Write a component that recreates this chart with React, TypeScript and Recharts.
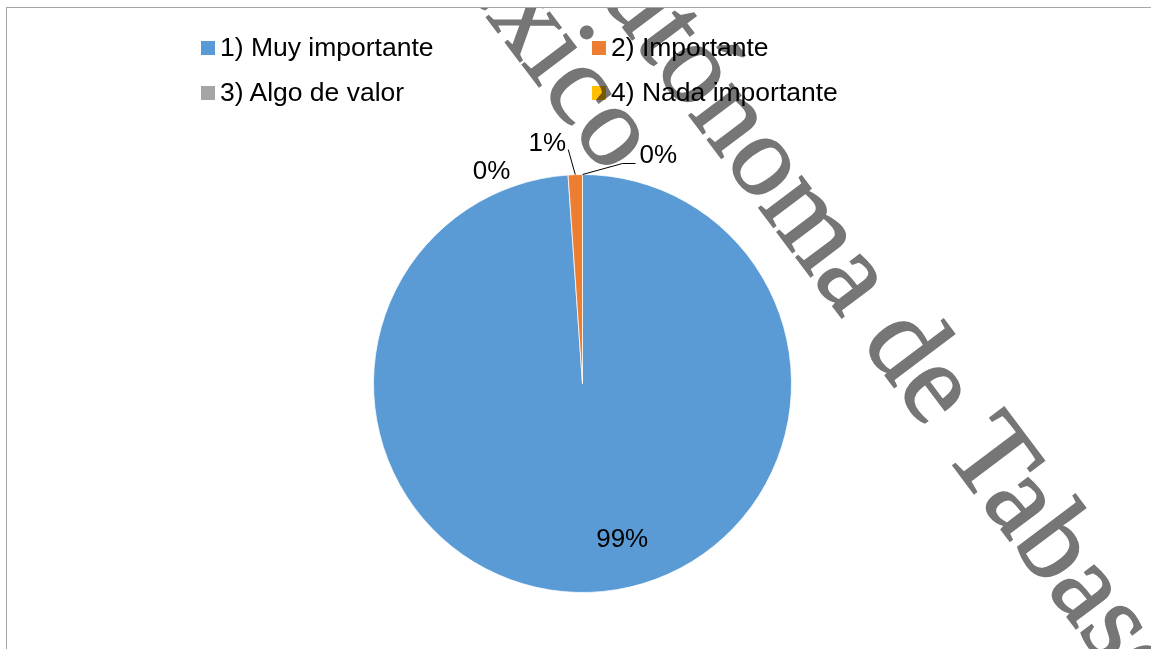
import React from 'react';
import { PieChart, Pie, Cell, Legend } from 'recharts';

const categories = ['1) Muy importante', '2) Importante', '3) Algo de valor', '4) Nada importante'];
const shares = [98.9, 1.1, 0, 0];
const sliceColors = ['#5B9BD5', '#ED7D31', '#A5A5A5', '#FFC000'];

const data = categories.map((name, i) => ({ name, value: shares[i] }));

const RADIAN = Math.PI / 180;
const FONT = '"Liberation Sans", Arial, sans-serif';

const renderLabel = (props: any) => {
    const { cx, cy, midAngle, outerRadius, percent, index } = props;
    const text = `${Math.round(percent * 100)}%`;
    const ax = cx + outerRadius * Math.cos(-midAngle * RADIAN);
    const ay = cy + outerRadius * Math.sin(-midAngle * RADIAN);
    const common = { fontFamily: FONT, fontSize: 26, fill: '#000', dominantBaseline: 'central' as const };

    if (index === 0) {
        return (
            <text x={cx + 0.19 * outerRadius} y={cy + 0.74 * outerRadius} textAnchor="middle" {...common}>
                {text}
            </text>
        );
    }
    if (index === 1) {
        return (
            <g>
                <line x1={ax} y1={ay} x2={ax - 7} y2={ay - 25} stroke="#000" strokeWidth={1} />
                <text x={ax - 28} y={ay - 33} textAnchor="middle" {...common}>{text}</text>
            </g>
        );
    }
    if (index === 2) {
        return (
            <text x={ax - 91} y={ay - 5} textAnchor="middle" {...common}>{text}</text>
        );
    }
    return (
        <g>
            <polyline
                points={`${ax},${ay} ${ax + 40},${ay - 11} ${ax + 53},${ay - 11}`}
                fill="none"
                stroke="#000"
                strokeWidth={1}
            />
            <text x={ax + 57} y={ay - 21} textAnchor="start" {...common}>{text}</text>
        </g>
    );
};

const renderLegend = (props: any) => {
    const { payload } = props;
    return (
        <div style={{ display: 'grid', gridTemplateColumns: '391px auto', fontFamily: FONT, fontSize: 26.5, color: '#000' }}>
            {(payload || []).map((entry: any, i: number) => (
                <div key={i} style={{ display: 'flex', alignItems: 'center', height: 45, whiteSpace: 'nowrap' }}>
                    <span style={{ width: 14, height: 14, background: entry.color, marginRight: 5, display: 'inline-block' }} />
                    <span>{entry.value}</span>
                </div>
            ))}
        </div>
    );
};

// stamp that sits over the scanned chart
const Watermark = () => (
    <svg
        width={1145}
        height={642}
        style={{ position: 'absolute', left: 0, top: 0, mixBlendMode: 'multiply', pointerEvents: 'none' }}
    >
        <g
            fill="#767676"
            stroke="#767676"
            strokeWidth={1.6}
            fontFamily='"Liberation Serif", "DejaVu Serif", serif'
            fontSize={116}
        >
            <text transform="translate(541,-80) rotate(53)">Autónoma de Tabasco</text>
            <text transform="translate(386,-115) rotate(53)">México</text>
        </g>
    </svg>
);

export default function App() {
    return (
        <div
            style={{
                position: 'absolute',
                left: 6,
                top: 7,
                width: 1145,
                height: 642,
                borderTop: '1px solid #a6a6a6',
                borderLeft: '1px solid #a6a6a6',
                background: '#fff',
                overflow: 'hidden',
            }}
        >
            <PieChart width={1144} height={641} margin={{ top: 0, right: 0, bottom: 0, left: 0 }}>
                <Legend
                    layout="vertical"
                    align="right"
                    verticalAlign="top"
                    width={760}
                    content={renderLegend}
                    wrapperStyle={{ left: 194, top: 17, right: 'auto' }}
                />
                <Pie
                    data={data}
                    dataKey="value"
                    nameKey="name"
                    cx={575.5}
                    cy={375.5}
                    outerRadius={209}
                    startAngle={90}
                    endAngle={-270}
                    stroke="#fff"
                    strokeWidth={0.75}
                    label={renderLabel}
                    labelLine={false}
                    isAnimationActive={false}
                >
                    {data.map((d, i) => (
                        <Cell key={d.name} fill={sliceColors[i]} />
                    ))}
                </Pie>
            </PieChart>
            <Watermark />
        </div>
    );
}
